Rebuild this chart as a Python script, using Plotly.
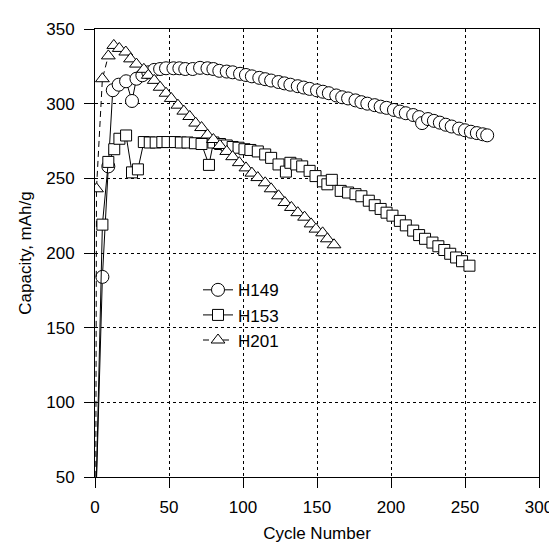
import plotly.graph_objects as go

# ---- data ----
h149_x = [0.5, 5, 9, 12, 16, 21, 25, 28, 32, 36, 40, 44, 48, 53, 57, 61, 66, 71, 76, 80, 84, 89, 93, 98,
          102, 106, 111, 115, 119, 124, 128, 132, 137, 141, 145, 150, 154, 158, 163, 167, 171, 176, 180,
          184, 189, 193, 197, 202, 206, 210, 215, 219, 221, 225, 229, 233, 237, 241, 246, 250, 254, 258,
          262, 265]
h149_y = [30, 184, 258, 309, 312.7, 315, 301.8, 316.7, 319, 321, 322.6, 323.2, 323.7, 323.7, 323.7, 323.2,
          323.2, 324, 323.7, 323.2, 322, 321.5, 321, 320,
          319.2, 318.3, 317.3, 316.4, 315.5, 314.5, 313.6, 312.7, 311.7, 310.8, 309.9, 308.9, 308, 307,
          305.5, 304.3, 303.5, 302.2, 301, 300, 299, 298, 297.2, 295.8, 294.7, 293.6, 292.4, 291, 287,
          289.7, 288.5, 287.3, 285.9, 284.7, 283.3, 282.2, 281.2, 280.3, 279.5, 278.8]

h153_x = [0.5, 5, 9, 13, 16.5, 21, 25, 29, 33, 37, 41, 45.5, 49, 54, 58, 62.5, 67.5, 72, 77, 80, 84.5,
          89, 93, 97, 101, 105, 110, 115, 119, 124, 129, 132, 136, 140, 145, 149, 154, 157, 160, 166,
          171, 176, 180, 185, 189, 193, 197, 201, 206, 210, 215, 219, 223, 228, 232, 236, 240, 244, 248,
          253]
h153_y = [30, 219, 261, 269.5, 276.5, 278.7, 254, 256, 274.3, 274, 274, 274.3, 274.3, 274.3, 274, 274,
          273.5, 273, 259, 274, 273, 272, 271, 270.5, 269.5, 269, 268, 266, 263.7, 259.3, 254.5, 260.4,
          259.3, 258, 255, 251.5, 248, 246, 249, 241.6, 240.5, 239.4, 238, 235, 232, 229.5, 227, 225,
          221.5, 218.5, 215, 212, 209.5, 207, 204.5, 202, 199.5, 197, 194.5, 191.5]

h201_x = [0.5, 1, 5, 9, 12.7, 16.4, 20.8, 24, 28, 33, 36, 40, 44, 48, 51.5, 56, 60, 64, 68, 72, 76, 80,
          84.4, 89, 93, 97.5, 102, 106, 110, 115, 119, 124, 128.3, 132.7, 137, 141.6, 146, 149.3, 153.8,
          157, 161.5]
h201_y = [30, 243, 316.7, 332, 339, 337, 334.6, 330, 326.5, 323, 319, 315.6, 311, 307, 303.5, 299, 295,
          291.4, 287, 284, 279, 276, 272, 268, 264.5, 260.5, 257, 253.5, 250.5, 247, 243, 238.3, 233.8,
          230.5, 227, 224, 219.5, 216, 213.5, 209.5, 205.5]

series_names = ["H149", "H153", "H201"]
x_ticks = [0, 50, 100, 150, 200, 250, 300]
y_ticks = [50, 100, 150, 200, 250, 300, 350]

FONT = "Liberation Sans, Arial, sans-serif"

fig = go.Figure()
styles = [
    (h149_x, h149_y, "circle", 13, "solid"),
    (h153_x, h153_y, "square", 11, "solid"),
    (h201_x, h201_y, "triangle-up", 12, "6px,4px"),
]
for name, (xs, ys, sym, sz, dash) in zip(series_names, styles):
    fig.add_trace(go.Scatter(
        x=xs, y=ys, name=name, mode="lines+markers",
        line=dict(color="black", width=1, dash=dash),
        marker=dict(symbol=sym, size=sz, color="white",
                    line=dict(color="black", width=1)),
    ))

axis_common = dict(
    showline=True, linecolor="black", linewidth=1, mirror=True,
    ticks="outside", ticklen=10, tickcolor="black", tickwidth=1,
    showgrid=True, gridcolor="black", gridwidth=1, griddash="dot",
    zeroline=False, tickfont=dict(family=FONT, size=17, color="black"),
)

fig.update_layout(
    width=557, height=543,
    margin=dict(l=87, r=17, t=19, b=68),
    paper_bgcolor="white", plot_bgcolor="white",
    font=dict(family=FONT, size=17, color="black"),
    showlegend=True,
    legend=dict(x=0.232, y=0.457, xanchor="left", yanchor="top",
                bgcolor="rgba(0,0,0,0)", font=dict(family=FONT, size=17, color="black"),
                tracegroupgap=0, itemsizing="trace"),
    xaxis=dict(range=[0, 300], tickvals=x_ticks, ticklabelstandoff=5,
               title=dict(text="Cycle Number", standoff=10,
                          font=dict(family=FONT, size=17, color="black")),
               **axis_common),
    yaxis=dict(range=[50, 350], tickvals=y_ticks, ticklabelstandoff=6,
               title=dict(text="Capacity, mAh/g", standoff=10,
                          font=dict(family=FONT, size=17, color="black")),
               **axis_common),
)

fig.write_html("out.html")
